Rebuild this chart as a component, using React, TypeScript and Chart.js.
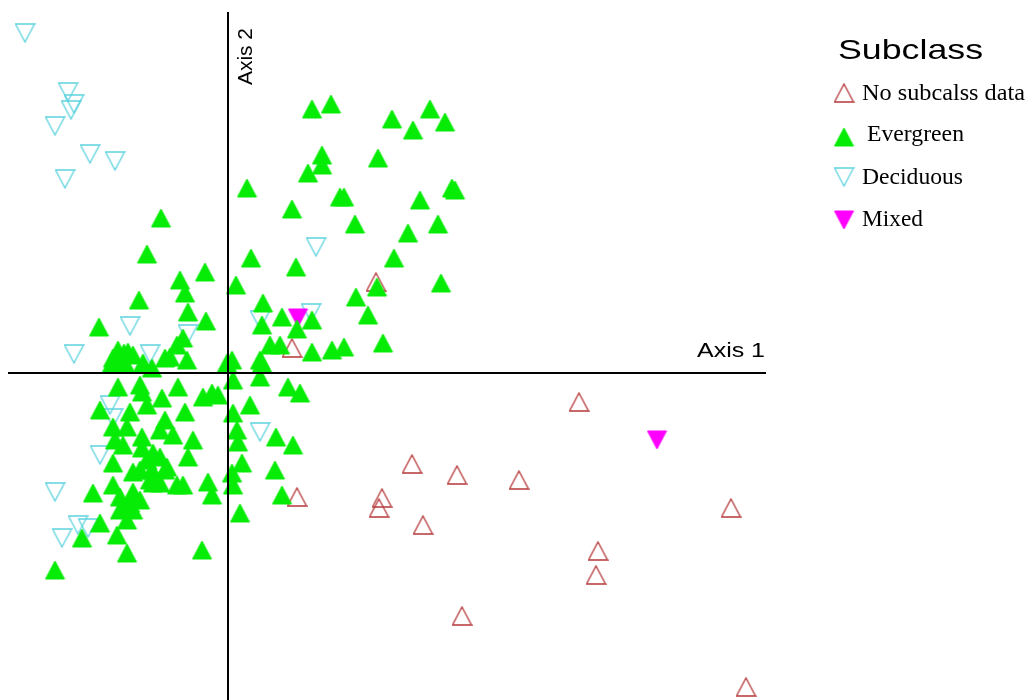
import React, { useEffect, useRef } from "react";
import { Chart, registerables } from "chart.js";

Chart.register(...registerables);

type Pt = [number, number];

// Ordination scores (Axis 1, Axis 2) for each plot, grouped by subclass
const noSubclassData: Pt[] = [
  [148, 91], [64, 25], [351, -29], [184, -91], [229, -102], [291, -107],
  [69, -124], [154, -125], [151, -135], [195, -152], [503, -135],
  [370, -178], [368, -202], [234, -243], [518, -314],
];

const evergreen: Pt[] = [
  // upper half
  [-67, 155], [-81, 119], [-89, 73], [-129, 46], [-23, 101], [-48, 93],
  [-43, 80], [-40, 61], [-22, 52], [-110, 23], [-100, 21], [-95, 18],
  [-115, 15], [-104, 20], [-63, 15], [-51, 28], [-58, 16], [-41, 13],
  [-45, 35], [-76, 5], [-1, 10], [8, 88], [23, 115], [19, 185], [64, 164],
  [80, 200], [94, 218], [94, 208], [84, 264], [103, 269], [164, 254],
  [202, 264], [185, 243], [217, 251], [150, 215], [112, 176], [116, 176],
  [192, 173], [224, 185], [227, 183], [68, 106], [127, 149], [210, 149],
  [180, 140], [166, 115], [149, 86], [213, 90], [128, 76], [140, 58],
  [116, 26], [155, 30], [104, 23], [84, 21], [35, 70], [34, 48], [54, 56],
  [84, 53], [69, 44], [42, 28], [52, 28], [32, 13], [4, 13], [34, 10],
  [-103, 10], [-116, 10], [-85, 10],
  // lower half
  [-110, -14], [-88, -12], [-86, -19], [-50, -14], [-66, -25], [-25, -24],
  [-16, -20], [-10, -22], [5, -7], [32, -4], [60, -14], [72, -20],
  [22, -32], [-128, -37], [-98, -39], [-81, -32], [-43, -39], [5, -40],
  [-115, -54], [-101, -54], [-63, -47], [-68, -57], [-55, -62], [-35, -67],
  [-86, -64], [-113, -67], [-105, -72], [9, -57], [10, -69], [48, -64],
  [65, -72], [-115, -90], [-86, -75], [-81, -87], [-68, -84], [-40, -84],
  [-75, -80], [-95, -99], [-76, -97], [-63, -97], [-78, -107], [-68, -110],
  [-51, -112], [-45, -112], [-20, -109], [-16, -122], [5, -112], [4, -100],
  [14, -90], [47, -97], [54, -122], [-135, -120], [-115, -112], [-108, -124],
  [-95, -119], [-98, -130], [-88, -127], [-108, -137], [-95, -137],
  [-101, -147], [-128, -150], [-111, -162], [-146, -165], [-101, -180],
  [-173, -197], [-26, -177], [12, -140], [-75, -110], [-88, -97], [-61, -94],
];

const deciduous: Pt[] = [
  [-203, 340], [-160, 281], [-154, 269], [-157, 263], [-173, 247],
  [-138, 219], [-113, 212], [-163, 194], [88, 126], [83, 60], [32, 53],
  [32, -59], [-40, 39], [-98, 47], [-78, 19], [-154, 19], [-118, -32],
  [-115, -45], [-128, -82], [-173, -119], [-150, -152], [-140, -155],
  [-166, -165],
];

const mixed: Pt[] = [[70, 55], [429, -67]];

const seriesNames = ["No subcalss data", "Evergreen", "Deciduous", "Mixed"];
const legendTitle = "Subclass";
const axisNames = ["Axis 1", "Axis 2"];

const xRange: [number, number] = [-220, 538];
const yRange: [number, number] = [-327, 361];

const COLORS = {
  none: "#b5393a",
  evergreen: "#06ec06",
  deciduous: "#5dd3de",
  mixed: "#ff00ff",
};

function makeMarker(dir: "up" | "down", fill: string | null, stroke: string | null) {
  const w = 21;
  const h = 20;
  const c = document.createElement("canvas");
  c.width = w;
  c.height = h;
  const g = c.getContext("2d")!;
  g.beginPath();
  if (dir === "up") {
    g.moveTo(w / 2, 1);
    g.lineTo(w - 1, h - 1);
    g.lineTo(1, h - 1);
  } else {
    g.moveTo(1, 1);
    g.lineTo(w - 1, 1);
    g.lineTo(w / 2, h - 1);
  }
  g.closePath();
  if (fill) {
    g.fillStyle = fill;
    g.fill();
    g.strokeStyle = fill;
    g.lineWidth = 1;
    g.stroke();
  }
  if (stroke) {
    g.strokeStyle = stroke;
    g.lineWidth = 1.3;
    g.stroke();
  }
  return c;
}

function stretchedText(
  ctx: CanvasRenderingContext2D,
  text: string,
  x: number,
  y: number,
  font: string,
  width: number,
  rotate = false
) {
  ctx.save();
  ctx.font = font;
  ctx.fillStyle = "#000";
  ctx.textAlign = "left";
  ctx.textBaseline = "alphabetic";
  const m = ctx.measureText(text).width;
  ctx.translate(x, y);
  if (rotate) ctx.rotate(-Math.PI / 2);
  ctx.scale(width / m, 1);
  ctx.fillText(text, 0, 0);
  ctx.restore();
}

const toXY = (pts: Pt[]) => pts.map(([x, y]) => ({ x, y }));

export default function App() {
  const ref = useRef<HTMLCanvasElement | null>(null);

  useEffect(() => {
    if (!ref.current) return;
    const markers = [
      makeMarker("up", null, COLORS.none),
      makeMarker("up", COLORS.evergreen, null),
      makeMarker("down", null, COLORS.deciduous),
      makeMarker("down", COLORS.mixed, null),
    ];

    const frame = {
      id: "ordinationFrame",
      afterDatasetsDraw(chart: any) {
        const { ctx, chartArea, scales } = chart;
        const x0 = scales.x.getPixelForValue(0);
        const y0 = scales.y.getPixelForValue(0);
        ctx.save();
        ctx.strokeStyle = "#000";
        ctx.lineWidth = 2;
        ctx.beginPath();
        ctx.moveTo(chartArea.left, y0);
        ctx.lineTo(chartArea.right, y0);
        ctx.moveTo(x0, chartArea.top);
        ctx.lineTo(x0, chartArea.bottom);
        ctx.stroke();
        ctx.restore();

        const sans = '"Liberation Sans", Arial, sans-serif';
        stretchedText(ctx, axisNames[0], chartArea.right - 69, y0 - 16, `20px ${sans}`, 68);
        stretchedText(ctx, axisNames[1], x0 + 24, chartArea.top + 73, `21px ${sans}`, 57, true);
      },
      afterDraw(chart: any) {
        const { ctx } = chart;
        const sans = '"Liberation Sans", Arial, sans-serif';
        const serif = '"Liberation Serif", "Times New Roman", serif';
        stretchedText(ctx, legendTitle, 838, 59, `28px ${sans}`, 145);
        const rows = [
          { my: 93, tx: 862, ty: 100, w: 163 },
          { my: 137, tx: 867, ty: 141, w: 97 },
          { my: 177, tx: 862, ty: 184, w: 101 },
          { my: 220, tx: 862, ty: 226, w: 61 },
        ];
        rows.forEach((r, i) => {
          const m = markers[i];
          ctx.drawImage(m, 844 - m.width / 2, r.my - m.height / 2);
          stretchedText(ctx, seriesNames[i], r.tx, r.ty, `23px ${serif}`, r.w);
        });
      },
    };

    const chart = new Chart(ref.current, {
      type: "scatter",
      data: {
        datasets: [
          { label: seriesNames[0], data: toXY(noSubclassData), pointStyle: markers[0], order: 3, clip: false },
          { label: seriesNames[1], data: toXY(evergreen), pointStyle: markers[1], order: 0, clip: false },
          { label: seriesNames[2], data: toXY(deciduous), pointStyle: markers[2], order: 2, clip: false },
          { label: seriesNames[3], data: toXY(mixed), pointStyle: markers[3], order: 1, clip: false },
        ] as any,
      },
      options: {
        responsive: false,
        animation: false,
        events: [],
        layout: { autoPadding: false, padding: { left: 8, top: 12, right: 266, bottom: 0 } },
        scales: {
          x: { type: "linear", display: false, min: xRange[0], max: xRange[1] },
          y: { type: "linear", display: false, min: yRange[0], max: yRange[1] },
        },
        elements: { point: { radius: 10, hoverRadius: 10 } },
        plugins: { legend: { display: false }, tooltip: { enabled: false } },
      },
      plugins: [frame],
    });

    return () => chart.destroy();
  }, []);

  return (
    <div style={{ position: "absolute", left: 0, top: 0, width: 1032, height: 700, background: "#fff" }}>
      <canvas ref={ref} width={1032} height={700} style={{ display: "block" }} />
    </div>
  );
}
